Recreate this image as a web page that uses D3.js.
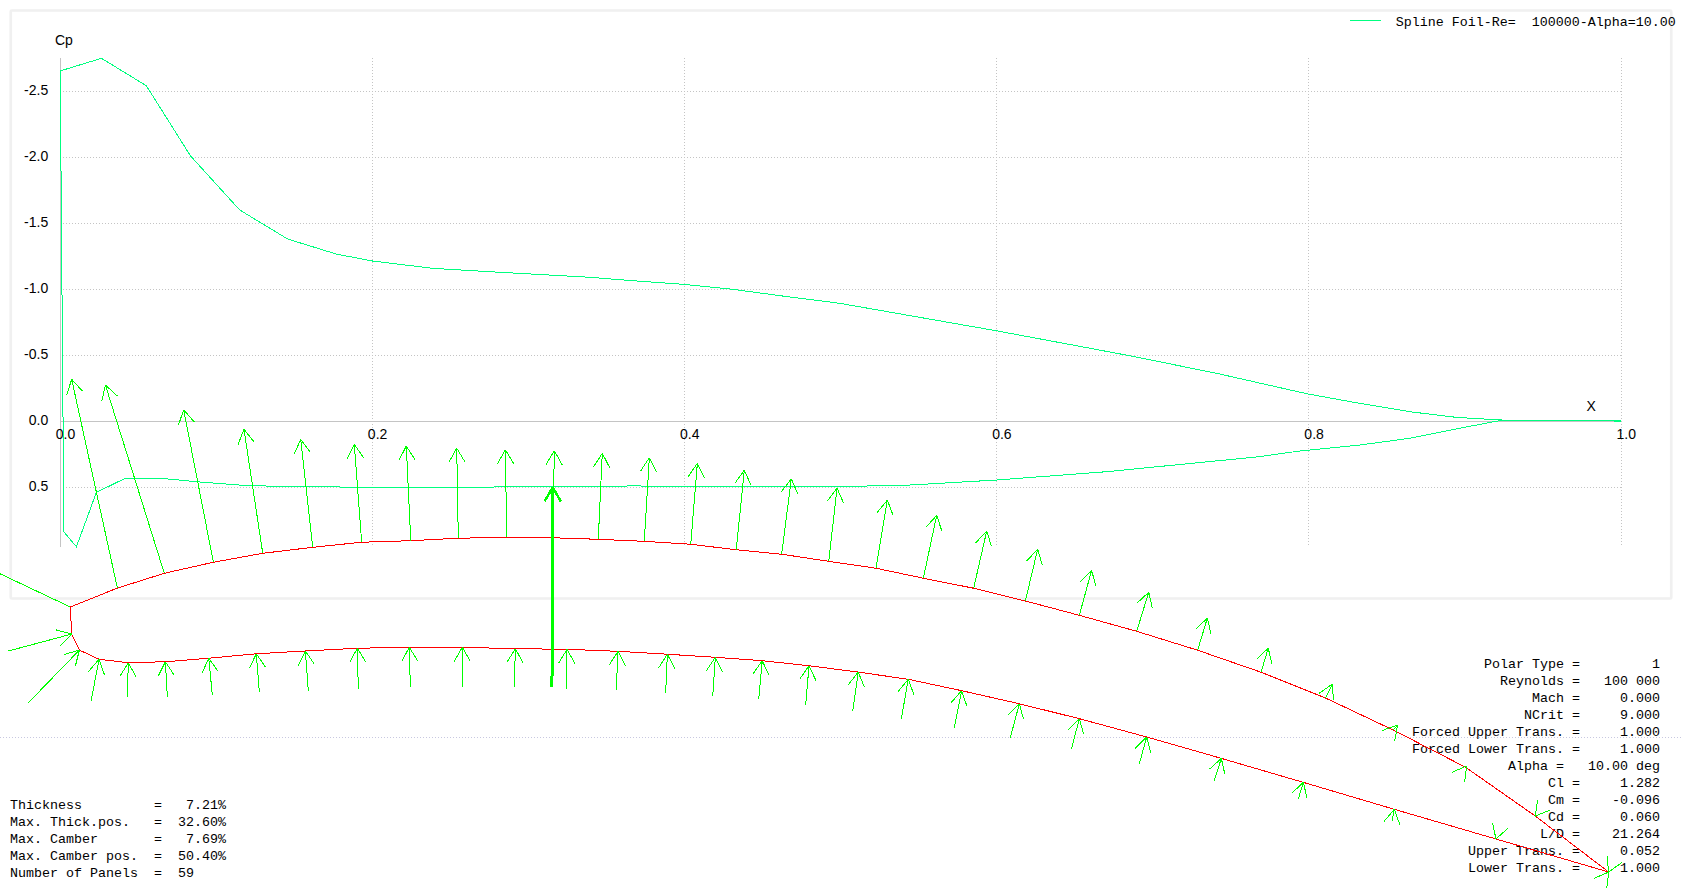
<!DOCTYPE html>
<html>
<head>
<meta charset="utf-8">
<title>Cp distribution</title>
<script src="https://cdn.jsdelivr.net/npm/d3@7"></script>
<style>
html,body{margin:0;padding:0;background:#fff;overflow:hidden}
svg{display:block}
.ax{font-family:"Liberation Sans",Arial,sans-serif;font-size:14px;fill:#000}
.mono{font-family:"Liberation Mono","Courier New",monospace;font-size:13.33px;fill:#000;white-space:pre}
</style>
</head>
<body>
<svg id="c" width="1681" height="888"></svg>
<script>
// ---- Cp curves ----
const upperX = [0,.0264,.0552,.0834,.115,.1457,.1769,.2002,.2386,.2816,.3392,.3668,.3988,.4308,.4629,.4994,.5485,.5997,.6486,.6851,.7407,.7994,.8325,.8645,.8944,.9222,.9606,1];
const upperCp = [-2.654,-2.75,-2.542,-2.012,-1.601,-1.381,-1.267,-1.214,-1.159,-1.129,-1.091,-1.065,-1.038,-1.0,-.949,-.894,-.792,-.686,-.578,-.497,-.364,-.207,-.136,-.073,-.03,-.01,-.004,-.002];
const lowerX = [0,.0024,.0104,.0232,.042,.0691,.0873,.1171,.1451,.2303,.3659,.4994,.5442,.5997,.6702,.7684,.7941,.8325,.8645,.8965,.9222,.9606,1];
const lowerCp = [-2.654,.839,.95,.538,.43,.437,.458,.485,.495,.502,.49,.495,.483,.445,.382,.268,.225,.18,.129,.053,-.005,-.006,-.008];
const xTicks = [0,.2,.4,.6,.8,1];
const yTicks = [-2.5,-2,-1.5,-1,-.5,0,.5];
const legendLabel = "Spline Foil-Re=  100000-Alpha=10.00";

// ---- Foil outline (thousandths of chord, rotated frame) ----
const foilUpperX = [0,30.6,61.1,93,125.1,157.6,189.4,221.3,252.2,283.7,313.8,343.2,373.1,403.3,432.9,462.4,493,523.7,554.5,587.2,620.8,655.9,693.2,732.8,774,816,860,907,952.3,1000];
const foilUpperY = [84.7,97,106.6,113.8,119.6,123.5,126.8,127.8,129.4,130,129.7,128.7,127.4,125.5,121.9,119,114.4,109.9,103.4,96.9,88.6,79.3,68.9,56.6,42.3,25.5,4.7,-19.5,-51.2,-87.6];
const foilLowerX = [0,.9,5.9,18.7,37.7,61.8,90,120.9,152.8,186.6,220.4,254.8,289.3,322.9,356,388.1,419.3,449.8,480.2,512.2,544.7,579.4,616.9,655.9,699.7,748.2,801.5,860.6,926.7,1000];
const foilLowerY = [84.7,67.1,56.7,50.7,48.5,49.1,51.4,54.3,56.1,57.9,58.5,58.5,57.6,57.2,55.9,54,52,49.8,46.5,42.4,37.7,30.3,21.8,12.1,.2,-13.7,-29.3,-46.8,-66.1,-87.6];

// ---- Pressure arrows on upper surface ----
const upTailX = [30.6,61.1,93,125.1,157.6,189.4,221.3,252.2,283.7,313.8,343.2,373.1,403.3,432.9,462.4,493,523.7,554.5,587.2,620.8,655.9,693.2,732.8,774,816,860,907,953,1000.4];
const upTailY = [97,106.6,113.8,119.6,123.5,126.8,127.8,129.4,130,129.7,128.7,127.4,125.5,121.9,119,114.4,109.9,103.4,96.9,88.6,79.3,68.9,56.6,42.3,25.5,4.7,-19.5,-50.3,-86.7];
const upTipX = [.9,22.8,73.7,112.9,149.8,184.6,218.4,251.2,282.8,314.6,345.8,376.4,407.6,438.1,468.7,498.4,531.1,563.2,595.7,628.8,663.9,701,739.1,778.7,820.3,862.8,907.6,952.3,1000];
const upTipY = [232.7,229,212.9,200.2,193.7,190.5,189.3,187.9,186.9,186.3,184.6,181.7,178.1,173.6,168.1,162,154.2,144.3,134.1,122.2,108.6,94.3,77.4,57.9,34.5,8,-18.7,-51.2,-87.6];

// ---- Pressure arrows on lower surface ----
const loTailX = [-40.3,-27.6,13.5,37.1,63.1,92.3,122.9,154.7,187.2,221,254.8,288.6,322.4,354.9,387,417.6,447.5,478,508.6,540.2,574.6,611,650.7,694.9,743.6,798.2,859.3,927,999.4];
const loTailY = [56.1,22.1,23.6,26,26.4,27.7,29.3,30.3,31.6,32.9,32.9,32.9,31.6,30.9,29,27,24.7,21.2,17.3,12.1,6.2,-.3,-7.8,-17.2,-28.2,-40.3,-54.2,-65.2,-88.4];
const loTipX = foilLowerX.slice(1);
const loTipY = foilLowerY.slice(1);

// stem with no head entering the leading edge, and the resultant force
const leadStemX = [-45.7,0], leadStemY = [106.3,84.7];
const liftX = [313.1,313.6], liftY = [32.5,162.5];

// ---- Text blocks ----
const statLabels = ["Polar Type","Reynolds","Mach","NCrit","Forced Upper Trans.","Forced Lower Trans.","Alpha","Cl","Cm","Cd","L/D","Upper Trans.","Lower Trans."];
const statValues = ["1","100 000","0.000","9.000","1.000","1.000","10.00 deg","1.282","-0.096","0.060","21.264","0.052","1.000"];
const geoLabels = ["Thickness","Max. Thick.pos.","Max. Camber","Max. Camber pos.","Number of Panels"];
const geoValues = ["  7.21%"," 32.60%","  7.69%"," 50.40%"," 59"];

const svg = d3.select("#c");
const GRID = "#c4c4c4", CPC = "#00ff80", ARROW = "#00ff00", FOIL = "#ff0000";

const x = d3.scaleLinear().domain([0,1]).range([60.2,1621]);
const y = d3.scaleLinear().domain([-2.75,.95]).range([58.3,546.7]);
const fx = d3.scaleLinear().domain([0,1000]).range([70.3,1608.7]);
const fy = d3.scaleLinear().domain([0,1000]).range([737.3,737.3-1538.4]);
const snap = v => Math.floor(v)+.5;

// frame
svg.append("rect").attr("x",10.75).attr("y",10.5).attr("width",1660.5).attr("height",588)
  .attr("fill","none").attr("stroke","#f0f0f0").attr("stroke-width",2.7).attr("rx",1);

// chord line
svg.append("line").attr("x1",0).attr("x2",1681).attr("y1",snap(fy(0))).attr("y2",snap(fy(0)))
  .attr("stroke","#c8c8e0").attr("stroke-dasharray","1 2").attr("shape-rendering","crispEdges");

// grid
const grid = svg.append("g").attr("shape-rendering","crispEdges").attr("fill","none");
yTicks.filter(d=>d!==0).forEach(d=>{
  grid.append("line").attr("x1",x(0)).attr("x2",x(1)).attr("y1",snap(y(d))).attr("y2",snap(y(d)))
    .attr("stroke",GRID).attr("stroke-dasharray","1 2");
});
xTicks.filter(d=>d!==0).forEach(d=>{
  grid.append("line").attr("x1",snap(x(d))).attr("x2",snap(x(d))).attr("y1",y.range()[0]).attr("y2",y.range()[1])
    .attr("stroke",GRID).attr("stroke-dasharray","1 2");
});
grid.append("line").attr("x1",snap(x(0))).attr("x2",snap(x(0))).attr("y1",y.range()[0]).attr("y2",y.range()[1]).attr("stroke",GRID);
grid.append("line").attr("x1",x(0)).attr("x2",x(1)).attr("y1",snap(y(0))).attr("y2",snap(y(0))).attr("stroke",GRID);

// axes (labels only, lines drawn above)
const gy = svg.append("g").attr("transform",`translate(${x(0)},0)`)
  .call(d3.axisLeft(y).tickValues(yTicks).tickSize(0).tickPadding(12).tickFormat(d3.format(".1f")));
const gx = svg.append("g").attr("transform",`translate(0,${y(0)})`)
  .call(d3.axisBottom(x).tickValues(xTicks).tickSize(0).tickPadding(6).tickFormat(d3.format(".1f")));
[gy,gx].forEach(g=>{g.select(".domain").remove();g.selectAll("text").attr("class","ax").style("font-family",null).style("font-size",null);g.attr("font-family",null).attr("font-size",null);});
gx.selectAll("text").attr("text-anchor","start").attr("dx",-5).attr("y",null).attr("dy",null).attr("transform","translate(0,17.4)");
gy.selectAll("text").attr("dy","0.26em").text(function(){return this.textContent.replace("\u2212","-");});

svg.append("text").attr("class","ax").attr("x",55).attr("y",45).text("Cp");
svg.append("text").attr("class","ax").attr("x",1586.5).attr("y",411).text("X");

// legend
svg.append("line").attr("x1",1350).attr("x2",1381).attr("y1",20.5).attr("y2",20.5).attr("stroke",CPC).attr("shape-rendering","crispEdges");
svg.append("text").attr("class","mono").attr("x",1395.7).attr("y",26).attr("xml:space","preserve").text(legendLabel);

// text blocks
const statG = svg.append("g");
statLabels.forEach((l,i)=>{
  const padded = l==="Alpha" ? (l+" = "+statValues[i].padStart(11," ")) : (l+" ="+statValues[i].padStart(10," "));
  statG.append("text").attr("class","mono").attr("xml:space","preserve")
    .attr("x",1660).attr("y",668.3+i*16.95).attr("text-anchor","end").text(padded);
});
const geoG = svg.append("g");
geoLabels.forEach((l,i)=>{
  geoG.append("text").attr("class","mono").attr("xml:space","preserve")
    .attr("x",10).attr("y",809+i*17).text(l.padEnd(18," ")+"= "+geoValues[i]);
});

// Cp curves
const cpLine = d3.line().x(d=>x(d[0])).y(d=>y(d[1]));
const curves = svg.append("g").attr("fill","none").attr("stroke",CPC).attr("shape-rendering","crispEdges");
curves.append("path").attr("d",cpLine(d3.zip(upperX,upperCp)));
curves.append("path").attr("d",cpLine(d3.zip(lowerX,lowerCp)));

// foil
const foilLine = d3.line().x(d=>fx(d[0])).y(d=>fy(d[1]));
const foil = svg.append("g").attr("fill","none").attr("stroke",FOIL).attr("shape-rendering","crispEdges");
foil.append("path").attr("d",foilLine(d3.zip(foilUpperX,foilUpperY)));
foil.append("path").attr("d",foilLine(d3.zip(foilLowerX,foilLowerY)));

// arrows
const BARB = 16.2, SPREAD = 30*Math.PI/180;
function arrow(g,tx,ty,hx,hy,w,head=true){
  const x1=fx(tx),y1=fy(ty),x2=fx(hx),y2=fy(hy);
  g.append("line").attr("x1",x1).attr("y1",y1).attr("x2",x2).attr("y2",y2).attr("stroke-width",w);
  if(!head) return;
  const a=Math.atan2(y1-y2,x1-x2);
  [-SPREAD,SPREAD].forEach(s=>{
    g.append("line").attr("x1",x2).attr("y1",y2)
      .attr("x2",x2+BARB*Math.cos(a+s)).attr("y2",y2+BARB*Math.sin(a+s)).attr("stroke-width",w===1?1:2.5);
  });
}
const ag = svg.append("g").attr("stroke",ARROW).attr("shape-rendering","crispEdges");
upTailX.forEach((_,i)=>arrow(ag,upTailX[i],upTailY[i],upTipX[i],upTipY[i],1));
loTailX.forEach((_,i)=>arrow(ag,loTailX[i],loTailY[i],loTipX[i],loTipY[i],1));
arrow(ag,leadStemX[0],leadStemY[0],leadStemX[1],leadStemY[1],1,false);
arrow(ag,liftX[0],liftY[0],liftX[1],liftY[1],3);
</script>
</body>
</html>
